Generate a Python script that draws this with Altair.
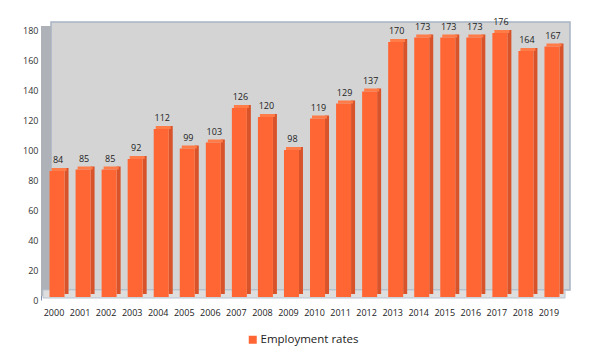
import altair as alt
import pandas as pd

years = [str(y) for y in range(2000, 2020)]
values = [84, 85, 85, 92, 112, 99, 103, 126, 120, 98, 119, 129, 137, 170, 173, 173, 173, 176, 164, 167]
series_name = "Employment rates"
y_ticks = [0, 20, 40, 60, 80, 100, 120, 140, 160, 180]

df = pd.DataFrame({"year": years, "value": values, "series": series_name})

FRONT = "#ff6633"
SIDE = "#d9532a"
TOP = "#ff7b47"
FONT = "Open Sans"

W, H = 521, 270

xscale = alt.Scale(domain=years, paddingInner=0.4, paddingOuter=0.2)
yscale = alt.Scale(domain=[0, 180], nice=False)

base = alt.Chart(df)

# decorative walls (pixel positions inside the plot area)
wall_df = pd.DataFrame({"k": [0]})
back_wall = alt.Chart(wall_df).mark_rect(fill="#d4d4d4", stroke="#a7b4c3", strokeWidth=1.5).encode(
    x=alt.value(10), x2=alt.value(529), y=alt.value(-8), y2=alt.value(260)
)
side_wall = alt.Chart(wall_df).mark_rect(fill="#aeb2b8").encode(
    x=alt.value(0), x2=alt.value(10), y=alt.value(-4), y2=alt.value(266)
)
floor = alt.Chart(wall_df).mark_rect(fill="#dedede", stroke="#b9c5d2", strokeWidth=1).encode(
    x=alt.value(2), x2=alt.value(524), y=alt.value(260), y2=alt.value(268)
)

x_axis = alt.Axis(labelAngle=0, labelFont=FONT, labelFontSize=9, labelColor="#222",
                  ticks=False, domain=False, labelPadding=8, bandPosition=0.5,
                  labelOverlap=False, title=None)
y_axis = alt.Axis(values=y_ticks, labelFont=FONT, labelFontSize=9, labelColor="#333",
                  ticks=False, grid=False, domainColor="#7f93ad", labelPadding=3,
                  labelOverlap=False, title=None)

X = alt.X("year:N", scale=xscale, axis=x_axis)
Y = alt.Y("value:Q", scale=yscale, axis=y_axis)

side = base.mark_bar(size=4, xOffset=12.5, yOffset=-6, y2Offset=-6, color=SIDE).encode(
    x=X, y=Y, y2=alt.datum(0)
)
top = base.mark_bar(size=15, xOffset=5, yOffset=-6, y2Offset=-3, color=TOP).encode(
    x=X, y=Y, y2=alt.Y2("value:Q")
)
front = base.mark_bar(size=15, xOffset=3, yOffset=-3, y2Offset=-3).encode(
    x=X, y=Y, y2=alt.datum(0),
    color=alt.Color("series:N", scale=alt.Scale(domain=[series_name], range=[FRONT]),
                    legend=alt.Legend(title=None, orient="none", legendX=206, legendY=304,
                                      symbolType="square", symbolSize=64, symbolStrokeWidth=0,
                                      labelFont=FONT, labelFontSize=11.5, labelColor="#222",
                                      labelOffset=2))
)
labels = base.mark_text(xOffset=4, yOffset=-9, font=FONT, fontSize=9, color="#222", baseline="bottom").encode(
    x=X, y=Y, text="value:Q"
)

chart = alt.layer(back_wall, side_wall, floor, side, top, front, labels).properties(
    width=W, height=H,
    autosize=alt.AutoSizeParams(type="none"),
    padding={"left": 41, "top": 30, "right": 38, "bottom": 56},
    background="white",
).configure_view(stroke=None)

chart.save("out.html", embed_options={"renderer": "svg", "actions": False})
